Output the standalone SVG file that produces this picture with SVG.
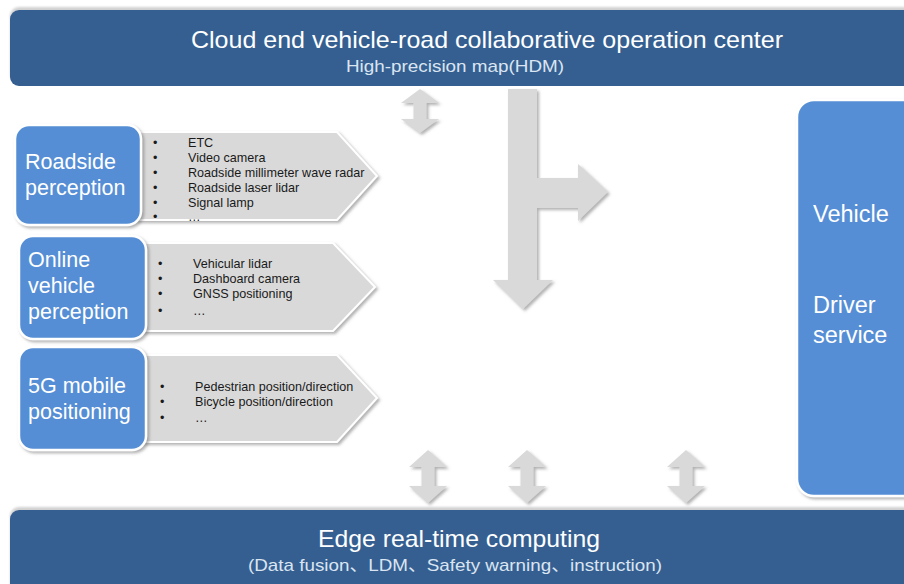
<svg xmlns="http://www.w3.org/2000/svg" width="904" height="584" viewBox="0 0 904 584">
  <defs>
    <filter id="shadow" x="-10%" y="-10%" width="130%" height="130%">
      <feDropShadow dx="2" dy="2" stdDeviation="1.6" flood-color="#6f6f6f" flood-opacity="0.55"/>
    </filter>
    <filter id="soft" x="-5%" y="-20%" width="110%" height="140%">
      <feDropShadow dx="0" dy="-3" stdDeviation="1.2" flood-color="#9a9a9a" flood-opacity="0.45"/>
    </filter>
  </defs>
  <style>
    text { font-family: "Liberation Sans", Arial, "Noto Sans CJK SC", sans-serif; }
    .bar { fill: #365f91; }
    .barTitle { fill: #ffffff; font-size: 24px; text-anchor: middle; }
    .barSub { fill: #dbe5f1; font-size: 17px; text-anchor: middle; }
    .box { fill: #558ed5; stroke: #ffffff; stroke-width: 2.5; }
    .boxText { fill: #ffffff; font-size: 21.5px; }
    .sideText { fill: #ffffff; font-size: 23.5px; }
    .chevron { fill: #d9d9d9; stroke: #ffffff; stroke-width: 2; }
    .item { fill: #1a1a1a; font-size: 12.6px; }
    .flow { fill: #d9d9d9; }
  </style>

  <rect width="904" height="584" fill="#ffffff"/>

  <!-- cloud operation center -->
  <g id="cloud-center">
    <rect class="bar" x="10" y="10" width="910" height="76" rx="9" filter="url(#soft)"/>
    <text class="barTitle" x="487" y="48" textLength="592" lengthAdjust="spacingAndGlyphs">Cloud end vehicle-road collaborative operation center</text>
    <text class="barSub" x="455" y="72" textLength="218" lengthAdjust="spacingAndGlyphs">High-precision map(HDM)</text>
  </g>

  <!-- edge computing -->
  <g id="edge-computing">
    <rect class="bar" x="10" y="510" width="910" height="90" rx="9" filter="url(#soft)"/>
    <text class="barTitle" x="459" y="547" textLength="282" lengthAdjust="spacingAndGlyphs">Edge real-time computing</text>
    <text class="barSub" x="455" y="571" textLength="414" lengthAdjust="spacingAndGlyphs">(Data fusion、LDM、Safety warning、instruction)</text>
  </g>

  <!-- roadside perception -->
  <g id="roadside-perception">
    <polygon class="chevron" points="136,132 337,132 377,176 337,220 136,220" filter="url(#shadow)"/>
    <rect class="box" x="15" y="125" width="126" height="100" rx="14" filter="url(#shadow)"/>
    <text class="boxText" x="25" y="169">Roadside</text>
    <text class="boxText" x="25" y="195">perception</text>
    <g class="item">
      <text x="153" y="147">•</text><text x="188" y="147">ETC</text>
      <text x="153" y="162">•</text><text x="188" y="162">Video camera</text>
      <text x="153" y="177">•</text><text x="188" y="177">Roadside millimeter wave radar</text>
      <text x="153" y="192">•</text><text x="188" y="192">Roadside laser lidar</text>
      <text x="153" y="207">•</text><text x="188" y="207">Signal lamp</text>
      <text x="153" y="221">•</text><text x="188" y="221">…</text>
    </g>
  </g>

  <!-- online vehicle perception -->
  <g id="vehicle-perception">
    <polygon class="chevron" points="142,243 333,243 375,287 333,331 142,331" filter="url(#shadow)"/>
    <rect class="box" x="19" y="236" width="127" height="103" rx="14" filter="url(#shadow)"/>
    <text class="boxText" x="28" y="267">Online</text>
    <text class="boxText" x="28" y="293">vehicle</text>
    <text class="boxText" x="28" y="319">perception</text>
    <g class="item">
      <text x="158" y="268">•</text><text x="193" y="268">Vehicular lidar</text>
      <text x="158" y="283">•</text><text x="193" y="283">Dashboard camera</text>
      <text x="158" y="298">•</text><text x="193" y="298">GNSS positioning</text>
      <text x="158" y="315">•</text><text x="193" y="315">…</text>
    </g>
  </g>

  <!-- 5G mobile positioning -->
  <g id="mobile-positioning">
    <polygon class="chevron" points="142,355 337,355 377,398 337,442 142,442" filter="url(#shadow)"/>
    <rect class="box" x="19" y="347" width="127" height="103" rx="14" filter="url(#shadow)"/>
    <text class="boxText" x="28" y="393">5G mobile</text>
    <text class="boxText" x="28" y="419">positioning</text>
    <g class="item">
      <text x="160" y="391">•</text><text x="195" y="391">Pedestrian position/direction</text>
      <text x="160" y="406">•</text><text x="195" y="406">Bicycle position/direction</text>
      <text x="160" y="422">•</text><text x="195" y="422">…</text>
    </g>
  </g>

  <!-- vehicle / driver service -->
  <g id="vehicle-service">
    <rect class="box" x="797" y="100" width="130" height="396" rx="17" filter="url(#shadow)"/>
    <text class="sideText" x="813" y="222">Vehicle</text>
    <text class="sideText" x="813" y="313">Driver</text>
    <text class="sideText" x="813" y="343">service</text>
  </g>

  <!-- data flows -->
  <g id="connectors" filter="url(#shadow)">
    <!-- cloud ↔ perception -->
    <polygon class="flow" points="420,89 439,103 426.5,103 426.5,119 439,119 420,133 401,119 413.5,119 413.5,103 401,103"/>
    <!-- cloud → edge, branching to vehicle -->
    <polygon class="flow" points="508,89 537,89 537,178 578,178 578,164 608,192 578,221 578,208 537,208 537,280 553,280 523,309 493,280 508,280"/>
    <!-- edge ↔ upper layers -->
    <polygon class="flow" points="428,450 447,467 434.5,467 434.5,486 447,486 428,503 409,486 421.5,486 421.5,467 409,467"/>
    <polygon class="flow" points="527,450 546,467 533.5,467 533.5,486 546,486 527,503 508,486 520.5,486 520.5,467 508,467"/>
    <polygon class="flow" points="686,450 705,467 692.5,467 692.5,486 705,486 686,503 667,486 679.5,486 679.5,467 667,467"/>
  </g>
</svg>
